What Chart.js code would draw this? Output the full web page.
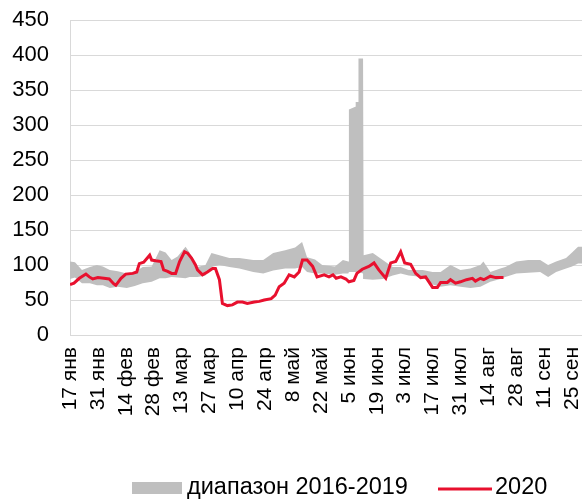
<!DOCTYPE html>
<html>
<head>
<meta charset="utf-8">
<script src="https://cdn.jsdelivr.net/npm/chart.js@4/dist/chart.umd.min.js"></script>
<style>
  html, body { margin: 0; padding: 0; background: #ffffff; }
  #wrap { width: 582px; height: 501px; position: relative; }
</style>
</head>
<body>
<div id="wrap"><canvas id="c" width="582" height="501"></canvas></div>
<script>
// Tick labels (every 14 days, starting 17 Jan)
const tickLabels = ['17 янв','31 янв','14 фев','28 фев','13 мар','27 мар','10 апр','24 апр','8 май','22 май','5 июн','19 июн','3 июл','17 июл','31 июл','14 авг','28 авг','11 сен','25 сен'];
const yTicks = [0, 50, 100, 150, 200, 250, 300, 350, 400, 450];

// Range 2016-2019: day index from 17 Jan, min and max
const bandDays = [0, 2.5, 6, 10, 13.5, 16.5, 20, 24, 28.5, 32.5, 36.5, 41, 45, 48, 51, 54, 58, 60, 64, 68, 71, 75, 80, 85, 92, 97, 102, 108, 113, 116.5, 119, 123, 126.6, 133, 137, 139.7, 140, 143.2, 143.4, 144.6, 144.8, 147.1, 147.4, 152, 157, 162, 166, 170, 177, 182, 186, 191, 196, 201, 206, 207.5, 211, 216, 218.5, 224, 230, 236, 240, 244, 249, 252, 255, 257];
const bandMin = [80, 82, 74, 74, 71, 71, 67, 69, 67, 70, 74, 76, 81, 81, 83, 82, 81, 83, 83, 85, 97, 100, 97, 95, 90, 88, 92, 95, 95, 97, 90, 88, 88, 86, 88, 88, 90, 90, 90, 90, 90, 88, 80, 79, 80, 85, 88, 85, 83, 72, 69, 71, 69, 67, 69, 71, 76, 80, 83, 88, 89, 90, 83, 90, 95, 98, 102, 102];
const bandMax = [105, 104, 93, 97, 100, 98, 93, 91, 88, 90, 97, 98, 121, 118, 107, 112, 126, 118, 97, 100, 117, 114, 110, 110, 107, 107, 117, 121, 125, 133, 111, 108, 100, 98, 107, 105, 322, 326, 333, 333, 395, 395, 114, 117, 107, 97, 97, 93, 93, 90, 90, 100, 93, 95, 100, 105, 90, 95, 97, 105, 107, 107, 100, 105, 110, 118, 126, 126];

// 2020
const days2020 = [0, 2, 4.7, 8, 9.7, 11.4, 14, 17, 19.7, 22, 23, 25.6, 28, 31.5, 33.5, 34.8, 37, 40, 41, 43, 45.7, 47, 49, 51, 53, 55, 57.5, 59, 61, 63, 64, 66.5, 69, 71.5, 73, 75, 76.5, 79, 81.5, 84, 86.6, 89, 92.5, 95, 97.5, 101, 103, 105, 107.5, 110, 112.6, 115, 116.7, 119, 121.8, 124, 127.6, 130, 132, 133.6, 136, 138.5, 140, 142.5, 144, 146.7, 150, 152.6, 155, 158.5, 161, 163.5, 166, 168, 171, 173.5, 176, 178.5, 182, 184.4, 186, 189.4, 191, 193.5, 196, 199, 202, 203.5, 206, 207.7, 211, 213.6, 217.6];
const values2020 = [72, 74, 81, 87, 83, 80, 82, 81, 80, 73, 71, 81, 87, 88, 90, 102, 104, 114, 107, 106, 105, 93, 91, 88, 88, 105, 119, 117, 110, 100, 93, 86, 90, 95, 95, 79, 45, 42, 43, 47, 47, 45, 47, 48, 50, 52, 57, 69, 74, 86, 83, 90, 107, 107, 98, 83, 86, 83, 86, 81, 83, 80, 76, 78, 88, 94, 98, 103, 93, 81, 103, 105, 119, 103, 101, 88, 82, 83, 68, 68, 75, 75, 79, 74, 76, 79, 81, 77, 81, 79, 84, 82, 82];

const seriesNames = ['диапазон 2016-2019', '2020'];
const GRAY = '#BFBFBF';
const RED = '#E8102E';
const GRID = '#D9D9D9';
const FONT = "'Liberation Sans', Arial, sans-serif";

const toPts = (xs, ys) => xs.map((x, i) => ({ x: x, y: ys[i] }));

const legendPlugin = {
  id: 'customLegend',
  afterDraw(chart) {
    const ctx = chart.ctx;
    ctx.save();
    ctx.font = '23.5px ' + FONT;
    ctx.textBaseline = 'middle';
    const y = 488;
    ctx.fillStyle = GRAY;
    ctx.fillRect(132, 482, 50, 12);
    ctx.fillStyle = '#000';
    ctx.textAlign = 'left';
    ctx.fillText(seriesNames[0], 187, y);
    ctx.strokeStyle = RED;
    ctx.lineWidth = 3;
    ctx.beginPath();
    ctx.moveTo(438, 489);
    ctx.lineTo(492, 489);
    ctx.stroke();
    ctx.fillText(seriesNames[1], 495, y);
    ctx.restore();
  }
};

new Chart(document.getElementById('c'), {
  type: 'line',
  data: {
    datasets: [
      {
        label: seriesNames[1],
        data: toPts(days2020, values2020),
        borderColor: RED,
        borderWidth: 3,
        pointRadius: 0,
        fill: false,
        tension: 0,
        order: 0
      },
      {
        label: 'min',
        data: toPts(bandDays, bandMin),
        borderWidth: 0,
        borderColor: 'rgba(0,0,0,0)',
        pointRadius: 0,
        fill: false,
        tension: 0,
        order: 2
      },
      {
        label: seriesNames[0],
        data: toPts(bandDays, bandMax),
        borderWidth: 0,
        borderColor: 'rgba(0,0,0,0)',
        backgroundColor: GRAY,
        pointRadius: 0,
        fill: '-1',
        tension: 0,
        order: 1
      }
    ]
  },
  options: {
    responsive: false,
    animation: false,
    events: [],
    layout: { padding: { top: 20, right: 0, left: 0, bottom: 0 } },
    plugins: {
      legend: { display: false },
      tooltip: { enabled: false },
      filler: { propagate: false }
    },
    scales: {
      x: {
        type: 'linear',
        min: 0,
        max: 257,
        grid: { display: false, drawTicks: false },
        border: { display: true, color: GRID, width: 1 },
        afterBuildTicks(scale) {
          scale.ticks = tickLabels.map((_, i) => ({ value: i * 14 }));
        },
        afterFit(scale) {
          scale.height = 166;
          scale.paddingLeft = 0;
          scale.paddingRight = 0;
        },
        ticks: {
          autoSkip: false,
          minRotation: 90,
          maxRotation: 90,
          padding: 12,
          color: '#000',
          font: { family: FONT, size: 21 },
          callback: (v) => tickLabels[Math.round(v / 14)]
        }
      },
      y: {
        min: 0,
        max: 450,
        afterBuildTicks(scale) {
          scale.ticks = yTicks.map(v => ({ value: v }));
        },
        afterFit(scale) {
          scale.width = 70;
          scale.paddingTop = 0;
          scale.paddingBottom = 0;
        },
        grid: { color: GRID, lineWidth: 1, drawTicks: false },
        border: { display: true, color: GRID, width: 1 },
        ticks: {
          padding: 21,
          color: '#000',
          font: { family: FONT, size: 22 }
        }
      }
    }
  },
  plugins: [legendPlugin]
});
</script>
</body>
</html>
